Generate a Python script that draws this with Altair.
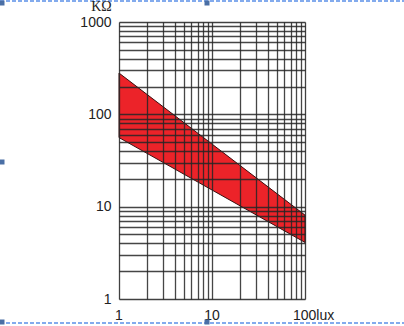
import altair as alt
import pandas as pd

# Photoresistor resistance band (KΩ) vs illuminance (lux)
lux = [1, 100]
r_upper = [280, 8.1]
r_lower = [56, 4.1]

x_grid = [1, 2, 3, 4, 5, 6, 7, 8, 9, 10, 20, 30, 40, 50, 60, 70, 80, 90, 100]
y_grid = [1, 2, 3, 4, 5, 6, 7, 8, 9, 10, 20, 30, 40, 50, 60, 70, 80, 90,
          100, 200, 300, 400, 500, 600, 700, 800, 900, 1000]
y_labels = [1, 10, 100, 1000]
x_label_vals = [1, 10]
x_label_text = ["1", "10"]
x_unit_vals = [100]
x_unit_text = ["100lux"]

band = pd.DataFrame({"lux": lux, "hi": r_upper, "lo": r_lower})
xl = pd.DataFrame({"lux": x_label_vals, "t": x_label_text})
xu = pd.DataFrame({"lux": x_unit_vals, "t": x_unit_text})

FONT = "Liberation Sans"
GRID = "#262626"

xs = alt.Scale(type="log", domain=[1, 100], nice=False)
ys = alt.Scale(type="log", domain=[1, 1000], nice=False)

label_set = "[" + ",".join(str(v) for v in y_labels) + "]"

area = alt.Chart(band).mark_area(
    color="#ec2329", stroke="#3a1010", strokeWidth=1, opacity=1
).encode(
    x=alt.X("lux:Q", scale=xs, axis=alt.Axis(
        values=x_grid, labels=False, ticks=False, domain=False, title=None,
        grid=True, gridColor=GRID, gridWidth=1.3, gridOpacity=0.85, zindex=1)),
    y=alt.Y("hi:Q", scale=ys, axis=alt.Axis(
        values=y_grid, ticks=False, domain=False,
        labelExpr=f"indexof({label_set}, datum.value) >= 0 ? format(datum.value, 'd') : ''",
        labelFont=FONT, labelFontSize=14, labelColor="#222", labelPadding=8,
        labelOverlap=False, labelBound=False,
        grid=True, gridColor=GRID, gridWidth=1.3, gridOpacity=0.85, zindex=1,
        title="KΩ", titleAngle=0, titleX=-18, titleY=-16, titleAlign="center",
        titleBaseline="middle", titleFont="Liberation Serif", titleFontSize=14,
        titleFontWeight="normal", titleColor="#222")),
    y2="lo:Q",
)

xlab = alt.Chart(xl).mark_text(
    font=FONT, fontSize=14, color="#222", align="center", baseline="middle"
).encode(x=alt.X("lux:Q", scale=xs), y=alt.value(294), text="t:N")

xunit = alt.Chart(xu).mark_text(
    font=FONT, fontSize=14, color="#222", align="left", baseline="middle", dx=-12
).encode(x=alt.X("lux:Q", scale=xs), y=alt.value(294), text="t:N")

# selection frame decoration (dashed blue border with handles)
top_line = alt.Chart(band).mark_rule(color="#5b8fe8", strokeDash=[4, 2], strokeWidth=1.2).encode(
    x=alt.value(-119), x2=alt.value(285), y=alt.value(-21))
bot_line = alt.Chart(band).mark_rule(color="#5b8fe8", strokeDash=[4, 2], strokeWidth=1.2).encode(
    x=alt.value(-119), x2=alt.value(285), y=alt.value(301))
handles = pd.DataFrame({"hx": [-117, 88, -117, -117, 88], "hy": [-19, -19, 140, 300, 300]})
hmarks = alt.Chart(handles).mark_square(color="#4a6fa5", size=25, opacity=1).encode(
    x=alt.X("hx:Q", scale=None), y=alt.Y("hy:Q", scale=None))

chart = alt.layer(area, xlab, xunit, top_line, bot_line, hmarks).properties(
    width=186, height=277,
    autosize=alt.AutoSizeParams(type="none"),
    padding={"left": 119, "top": 22, "right": 99, "bottom": 27},
).configure_view(stroke=None).configure(background="white")

chart.save("out.html", embed_options={"renderer": "svg", "actions": False})
